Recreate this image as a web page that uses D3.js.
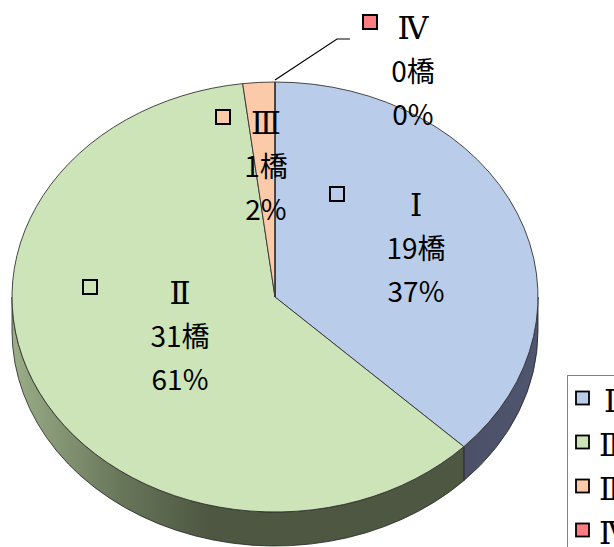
<!DOCTYPE html>
<html><head><meta charset="utf-8">
<script src="https://cdn.jsdelivr.net/npm/d3@7"></script>
<style>
html,body{margin:0;padding:0;background:#fff;overflow:hidden;}
text{font-family:"Noto Sans CJK JP","Noto Sans",sans-serif;}
text.num{font-family:"DejaVu Serif","Liberation Serif",serif;}
</style></head>
<body><svg id="c" width="614" height="547"></svg>
<script>
// ---- data ----
const categories = ["Ⅰ", "Ⅱ", "Ⅲ", "Ⅳ"];
const counts = [19, 31, 1, 0];
const unit = "橋";
const topColors = ["#b9cdea", "#cce4b8", "#fbcaa8", "#ff7c80"];
const sideColors = ["#4a4e63", "#4d5742", "#a08470", "#a04a4c"];

// ---- layout ----
const W = 614, H = 547;
const cx = 275, cy = 297, rx = 263, ry = 215, depth = 34;
// label centre (middle line) relative to pie centre, and marker offset
const labelLayout = [
  {dx: 141, dy: -50, mx: -79, my: -53},
  {dx: -95, dy: 38, mx: -90, my: -48},
  {dx: -9, dy: -132, mx: -43, my: -48},
  {dx: 138, dy: -227, mx: -43, my: -48}
];
const lineGap = 43;
const fontSize = 28;
const numSize = 31;

const svg = d3.select("#c");
const total = d3.sum(counts);
const pie = d3.pie().sort(null).value(d => d).startAngle(0).endAngle(2 * Math.PI);
const arcs = pie(counts);

const px = a => cx + rx * Math.sin(a);
const py = a => cy - ry * Math.cos(a);

// gradient for sides
const defs = svg.append("defs");
const g1 = defs.append("linearGradient").attr("id", "sideG").attr("gradientUnits", "userSpaceOnUse")
  .attr("x1", cx - rx).attr("x2", cx - rx * 0.25).attr("y1", 0).attr("y2", 0);
g1.append("stop").attr("offset", 0).attr("stop-color", "#9aae88");
g1.append("stop").attr("offset", 0.55).attr("stop-color", "#68765a");
g1.append("stop").attr("offset", 1).attr("stop-color", "#4d5742");
const g0 = defs.append("linearGradient").attr("id", "sideB").attr("gradientUnits", "userSpaceOnUse")
  .attr("x1", cx + rx * 0.6).attr("x2", cx + rx).attr("y1", 0).attr("y2", 0);
g0.append("stop").attr("offset", 0).attr("stop-color", "#4a4e63");
g0.append("stop").attr("offset", 1).attr("stop-color", "#505570");
const sideFill = ["url(#sideB)", "url(#sideG)", sideColors[2], sideColors[3]];

// ---- sides ----
const lo = Math.PI / 2, hi = 3 * Math.PI / 2;
arcs.forEach((d, i) => {
  const a0 = Math.max(d.startAngle, lo), a1 = Math.min(d.endAngle, hi);
  if (a1 <= a0) return;
  const large = (a1 - a0) > Math.PI ? 1 : 0;
  const path = `M${px(a0)},${py(a0)} A${rx},${ry} 0 ${large} 1 ${px(a1)},${py(a1)}` +
    ` L${px(a1)},${py(a1) + depth} A${rx},${ry} 0 ${large} 0 ${px(a0)},${py(a0) + depth} Z`;
  svg.append("path").attr("d", path).attr("fill", sideFill[i])
    .attr("stroke", "#222").attr("stroke-width", 0.8).attr("stroke-linejoin", "round");
});

// ---- top face ----
const arc = d3.arc().innerRadius(0).outerRadius(rx);
const topG = svg.append("g").attr("transform", `translate(${cx},${cy}) scale(1,${ry / rx})`);
topG.selectAll("path").data(arcs).join("path")
  .attr("d", arc)
  .attr("fill", (d, i) => topColors[i])
  .attr("stroke", "#333").attr("stroke-width", 0.9)
  .attr("vector-effect", "non-scaling-stroke")
  .attr("stroke-linejoin", "round");

// ---- leader for IV ----
const L3 = labelLayout[3];
const a4 = arcs[3].startAngle;
svg.append("path")
  .attr("d", `M${px(a4)},${py(a4) - 2} L${cx + L3.dx - 76},${cy + L3.dy - 31} L${cx + L3.dx - 63},${cy + L3.dy - 31}`)
  .attr("fill", "none").attr("stroke", "#000").attr("stroke-width", 1.2);

// ---- labels ----
arcs.forEach((d, i) => {
  const L = labelLayout[i];
  const x = cx + L.dx, y = cy + L.dy;
  const g = svg.append("g");
  g.append("rect").attr("x", x + L.mx - 7).attr("y", y + L.my - 7).attr("width", 14).attr("height", 14)
    .attr("fill", topColors[i]).attr("stroke", "#000").attr("stroke-width", 2);
  const lines = [categories[i], counts[i] + unit, Math.round(counts[i] / total * 100) + "%"];
  lines.forEach((t, k) => {
    g.append("text").attr("class", k === 0 ? "num" : null)
      .attr("x", x).attr("y", y + (k - 1) * lineGap + (k === 0 ? 1 : 0))
      .attr("text-anchor", "middle").attr("dominant-baseline", "central")
      .attr("font-size", k === 0 ? numSize : fontSize).attr("fill", "#000").text(t);
  });
});

// ---- legend ----
const lg = svg.append("g");
lg.append("rect").attr("x", 567.5).attr("y", 375.5).attr("width", 80).attr("height", 200)
  .attr("fill", "#fff").attr("stroke", "#808080").attr("stroke-width", 1);
categories.forEach((c, i) => {
  const y = 398 + i * 44;
  lg.append("rect").attr("x", 576).attr("y", y - 6.5).attr("width", 13).attr("height", 13)
    .attr("fill", topColors[i]).attr("stroke", "#000").attr("stroke-width", 1.8);
  lg.append("text").attr("class", "num").attr("x", i === 0 ? 604 : 599).attr("y", y + 3).attr("dominant-baseline", "central")
    .attr("font-size", numSize).attr("fill", "#000").text(c);
});
</script></body></html>
